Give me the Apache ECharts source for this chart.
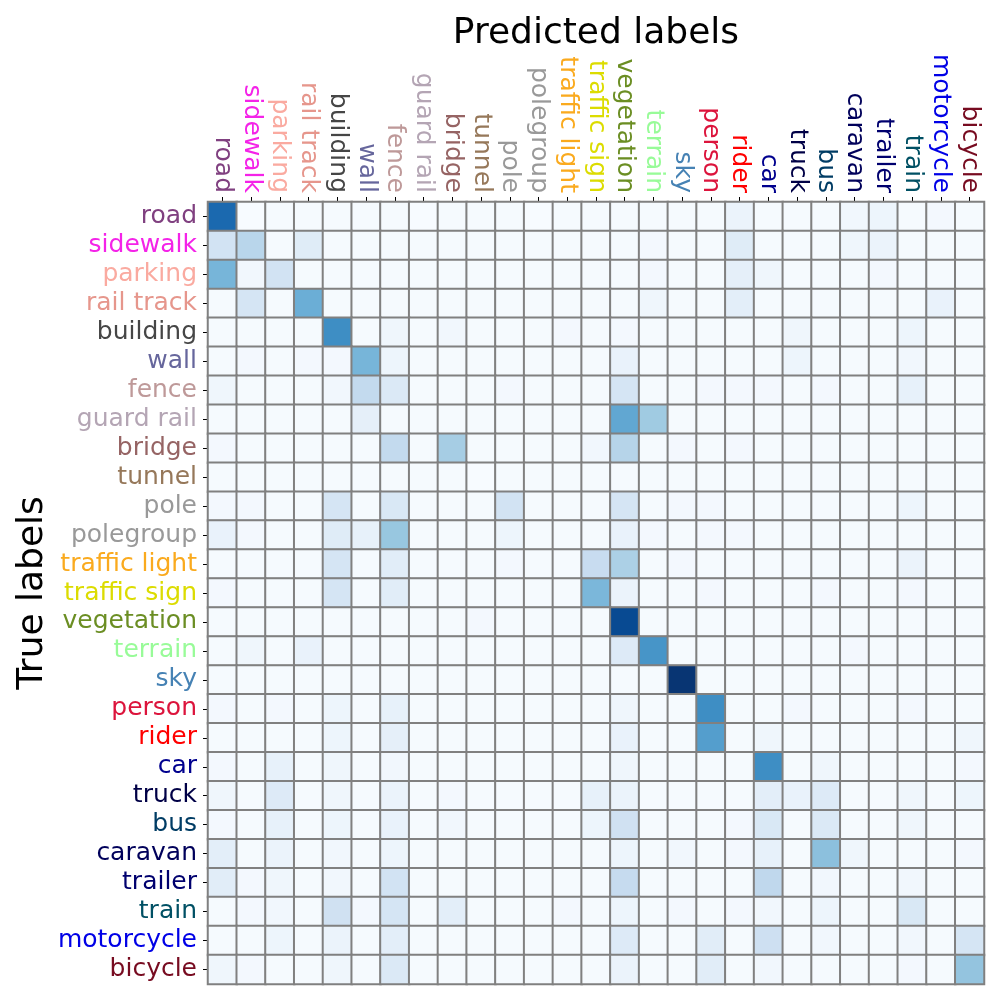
<!DOCTYPE html>
<html>
<head>
<meta charset="utf-8">
<script src="https://cdn.jsdelivr.net/npm/echarts@6/dist/echarts.min.js"></script>
<style>html,body{margin:0;padding:0;background:#fff}#c{width:1000px;height:1000px}</style>
</head>
<body>
<div id="c"></div>
<script>
const labels = ['road','sidewalk','parking','rail track','building','wall','fence','guard rail','bridge','tunnel','pole','polegroup','traffic light','traffic sign','vegetation','terrain','sky','person','rider','car','truck','bus','caravan','trailer','train','motorcycle','bicycle'];
const labelColors = ['#804080','#f423e8','#faaaa0','#e6968c','#464646','#66669c','#be9999','#b4a5b4','#966464','#96785a','#999999','#999999','#faaa1e','#dcdc00','#6b8e23','#98fb98','#4682b4','#dc143c','#ff0000','#00008e','#000046','#003c64','#00005a','#00006e','#005064','#0000e6','#770b20'];

const rowRoad       = [.78,0,.01,.01,.01,.01,.01,0,.01,.01,.01,0,.01,.01,.01,.01,.01,.01,.06,.01,.01,.01,.03,.05,.01,.02,.01];
const rowSidewalk   = [.19,.29,.01,.12,.01,.01,.01,.01,.01,.01,.01,.01,.01,.01,.01,.02,.01,.01,.12,.01,.01,.01,.04,.06,.01,.01,.01];
const rowParking    = [.47,.03,.19,.01,.01,.01,.01,.01,.01,.01,.01,.01,.01,.01,.01,.02,.01,.01,.09,.04,.01,.01,.01,.02,.01,.01,.01];
const rowRailTrack  = [.01,.17,.01,.50,.01,.01,.01,.01,.01,.01,.01,.01,.01,.01,.01,.04,.01,.01,.10,.01,.01,.01,.01,.01,.01,.07,.01];
const rowBuilding   = [.01,.01,.01,.01,.64,.01,.04,.01,.03,.01,.01,.01,.02,.01,.02,.01,.01,.01,.01,.01,.04,.01,.01,.01,.05,.01,.01];
const rowWall       = [.01,.02,.01,.02,.02,.47,.05,.01,.01,.01,.01,.01,.01,.01,.07,.01,.01,.01,.01,.01,.05,.01,.01,.01,.03,.01,.01];
const rowFence      = [.04,.01,.01,.01,.03,.26,.14,.01,.01,.01,.02,.01,.01,.01,.17,.01,.01,.02,.02,.02,.01,.02,.01,.01,.08,.01,.01];
const rowGuardRail  = [.01,.01,.01,.01,.01,.09,.01,.01,.01,.01,.01,.01,.01,.01,.53,.37,.01,.01,.01,.01,.01,.01,.01,.01,.01,.01,.01];
const rowBridge     = [.02,.01,.01,.01,.01,.01,.26,.01,.35,.01,.01,.01,.01,.03,.30,.01,.02,.01,.02,.01,.01,.01,.01,.01,.01,.01,.01];
const rowTunnel     = [.01,.01,.01,.01,.01,.01,.01,.01,.01,0,.01,.01,.01,.01,.01,.01,.01,.01,.01,.01,.01,.01,.01,.01,.01,.01,.01];
const rowPole       = [.02,.02,.01,.01,.17,.01,.15,.01,.01,.01,.19,.01,.01,.01,.17,.01,.02,.02,.01,.01,.01,.01,.01,.01,.05,.01,.01];
const rowPolegroup  = [.07,.02,.01,.01,.12,.08,.39,.01,.01,.01,.05,.01,.01,.01,.07,.02,.01,.02,.02,.01,.01,.01,.01,.01,.01,.01,.01];
const rowTrafficLight=[.01,.01,.01,.01,.17,.01,.11,.01,.01,.01,.02,.01,.01,.24,.33,.01,.02,.01,.01,.01,.01,.01,.01,.01,.06,.01,.01];
const rowTrafficSign= [.02,.01,.01,.01,.17,.01,.11,.01,.01,.01,.01,.01,.01,.46,.06,.01,.01,.02,.01,.01,.01,.02,.01,.01,.02,.01,.01];
const rowVegetation = [.01,.01,.01,.01,.01,.01,.01,.01,.01,.02,.01,.01,.01,.01,.90,.01,.01,.01,.01,.01,.01,.01,.01,.01,.01,.01,.01];
const rowTerrain    = [.01,.04,.01,.07,.01,.01,.01,.01,.01,.01,.01,.01,.01,.01,.13,.61,.01,.01,.01,.01,.01,.01,.02,.01,.01,.01,.01];
const rowSky        = [.01,.01,.01,.01,.01,.01,.01,.01,.01,.01,.01,.01,.01,.01,.01,.01,.98,.01,.01,.01,.01,.01,.01,.01,.01,.01,.01];
const rowPerson     = [.02,.01,.02,.01,.05,.01,.08,.01,.01,.01,.01,.01,.01,.01,.04,.01,.01,.64,.01,.01,.02,.01,.01,.01,.02,.01,.01];
const rowRider      = [.01,.01,.01,.01,.05,.01,.09,.01,.01,.01,.01,.01,.01,.01,.07,.01,.01,.57,.01,.04,.01,.01,.01,.01,.01,.01,.04];
const rowCar        = [.02,.01,.08,.01,.04,.01,.03,.01,.01,.01,.01,.01,.01,.01,.04,.01,.01,.01,.01,.64,.01,.04,.01,.01,.01,.01,.02];
const rowTruck      = [.04,.01,.13,.01,.04,.01,.06,.01,.02,.01,.01,.01,.01,.08,.06,.01,.01,.01,.01,.10,.07,.13,.01,.01,.04,.01,.05];
const rowBus        = [.02,.01,.08,.01,.05,.01,.07,.01,.03,.01,.01,.01,.01,.05,.20,.01,.01,.01,.02,.15,.01,.14,.01,.01,.04,.01,.01];
const rowCaravan    = [.10,.01,.06,.01,.03,.01,.05,.01,.01,.01,.01,.01,.01,.01,.05,.01,.03,.01,.02,.08,.01,.42,.04,.01,.01,.01,.02];
const rowTrailer    = [.11,.02,.04,.01,.03,.01,.19,.01,.01,.01,.01,.01,.01,.01,.25,.01,.01,.01,.01,.27,.01,.03,.01,.01,.03,.01,.01];
const rowTrain      = [.01,.02,.03,.01,.20,.02,.17,.01,.10,.01,.01,.01,.02,.01,.05,.01,.02,.01,.02,.03,.01,.05,.01,.01,.15,.01,.01];
const rowMotorcycle = [.01,.01,.05,.01,.06,.01,.10,.01,.01,.01,.01,.01,.01,.01,.13,.01,.01,.11,.01,.21,.01,.03,.01,.01,.03,.01,.17];
const rowBicycle    = [.04,.02,.01,.01,.04,.01,.14,.01,.01,.01,.01,.01,.01,.01,.06,.01,.01,.11,.01,.03,.01,.01,.01,.01,.02,.01,.40];

const rows = [rowRoad,rowSidewalk,rowParking,rowRailTrack,rowBuilding,rowWall,rowFence,rowGuardRail,rowBridge,rowTunnel,rowPole,rowPolegroup,rowTrafficLight,rowTrafficSign,rowVegetation,rowTerrain,rowSky,rowPerson,rowRider,rowCar,rowTruck,rowBus,rowCaravan,rowTrailer,rowTrain,rowMotorcycle,rowBicycle];

const blues = ['#f7fbff','#deebf7','#c6dbef','#9ecae1','#6baed6','#4292c6','#2171b5','#08519c','#08306b'];

const data = [];
rows.forEach((r, yi) => r.forEach((v, xi) => data.push([xi, yi, v])));

const font = 'DejaVu Sans';
const catData = labels.map((l, i) => ({ value: l, textStyle: { color: labelColors[i] } }));

const chart = echarts.init(document.getElementById('c'));
chart.setOption({
  animation: false,
  backgroundColor: '#ffffff',
  grid: { left: 208, top: 202, width: 776, height: 782, containLabel: false, outerBoundsMode: 'none' },
  xAxis: {
    type: 'category', position: 'top', data: catData,
    name: 'Predicted labels', nameLocation: 'middle', nameGap: 150, nameMoveOverlap: false,
    nameTextStyle: { fontFamily: font, fontSize: 36, color: '#000' },
    axisLine: { show: false },
    axisTick: { show: true, alignWithLabel: true, length: 5, lineStyle: { color: '#000', width: 1 } },
    axisLabel: { rotate: 90, fontFamily: font, fontSize: 25, margin: 9, interval: 0 },
    splitLine: { show: false }
  },
  yAxis: {
    type: 'category', inverse: true, data: catData,
    name: 'True labels', nameLocation: 'middle', nameGap: 157, nameRotate: 90, nameMoveOverlap: false,
    nameTextStyle: { fontFamily: font, fontSize: 36, color: '#000' },
    axisLine: { show: false },
    axisTick: { show: true, alignWithLabel: true, length: 5, lineStyle: { color: '#000', width: 1 } },
    axisLabel: { fontFamily: font, fontSize: 25, margin: 11, interval: 0 },
    splitLine: { show: false }
  },
  visualMap: { show: false, min: 0, max: 1, inRange: { color: blues } },
  series: [{
    type: 'heatmap', data: data,
    itemStyle: { borderColor: '#808080', borderWidth: 2 },
    emphasis: { disabled: true }
  }]
});
</script>
</body>
</html>
